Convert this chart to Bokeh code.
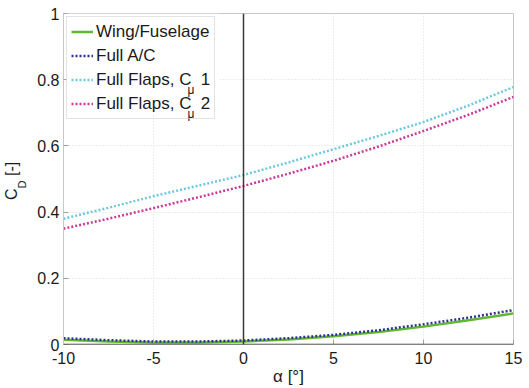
from bokeh.plotting import figure
from bokeh.layouts import row
from bokeh.models import (ColumnDataSource, Range1d, Legend, LegendItem, Span,
                          Label, FixedTicker, BoxAnnotation, Div)
from bokeh.embed import file_html
from bokeh.resources import INLINE

# ---- data ----
alpha = [-10, -7.5, -5, -2.5, 0, 2.5, 5, 7.5, 10, 12.5, 15]
cd_wing_fuselage = [0.014, 0.009, 0.006, 0.006, 0.009, 0.015, 0.025, 0.038, 0.054, 0.073, 0.094]
cd_full_ac = [0.019, 0.013, 0.009, 0.009, 0.012, 0.019, 0.029, 0.043, 0.061, 0.081, 0.104]
cd_flaps_cmu1 = [0.380, 0.413, 0.448, 0.480, 0.512, 0.550, 0.590, 0.630, 0.672, 0.722, 0.778]
cd_flaps_cmu2 = [0.350, 0.380, 0.412, 0.445, 0.479, 0.516, 0.555, 0.598, 0.645, 0.694, 0.748]

x_ticks = [-10, -5, 0, 5, 10, 15]
x_tick_labels = {-10: "-10", -5: "-5", 0: "0", 5: "5", 10: "10", 15: "15"}
y_ticks = [0, 0.2, 0.4, 0.6, 0.8, 1]
y_tick_labels = {0: "0", 0.2: "0.2", 0.4: "0.4", 0.6: "0.6", 0.8: "0.8", 1: "1"}

legend_labels = ["Wing/Fuselage", "Full A/C", "Full Flaps, C\u00a0\u00a01", "Full Flaps, C\u00a0\u00a02"]

FONT = "Liberation Sans"
TXT = "#1a1a1a"
DIV_W = 30

src = ColumnDataSource(dict(a=alpha, wf=cd_wing_fuselage, ac=cd_full_ac,
                            f1=cd_flaps_cmu1, f2=cd_flaps_cmu2))

p = figure(width=529 - DIV_W, height=388, output_backend="svg", toolbar_location=None,
           x_range=Range1d(-10, 15), y_range=Range1d(0, 1),
           min_border_left=63 - DIV_W, min_border_right=16, min_border_top=13,
           min_border_bottom=41, margin=0)
p.background_fill_color = "white"
p.border_fill_color = "white"
p.outline_line_color = "#c8c8c8"

# grid
for g in (p.xgrid, p.ygrid):
    g.grid_line_color = "#dddddd"
    g.grid_line_dash = "1 2"
    g.grid_line_width = 1
p.xgrid.ticker = FixedTicker(ticks=x_ticks)
p.ygrid.ticker = FixedTicker(ticks=y_ticks)

# axes
p.xaxis.ticker = FixedTicker(ticks=x_ticks)
p.yaxis.ticker = FixedTicker(ticks=y_ticks)
p.xaxis.major_label_overrides = x_tick_labels
p.yaxis.major_label_overrides = y_tick_labels
for ax in (p.xaxis, p.yaxis):
    ax.axis_line_color = "#c8c8c8"
    ax.major_tick_line_color = "#a0a0a0"
    ax.major_tick_in = 5
    ax.major_tick_out = 0
    ax.minor_tick_line_color = None
    ax.major_label_text_font = FONT
    ax.major_label_text_font_size = "16px"
    ax.major_label_text_color = TXT
p.xaxis.major_label_standoff = 7
p.yaxis.major_label_standoff = 4
p.xaxis.axis_label = "α [°]"
p.xaxis.axis_label_text_font = FONT
p.xaxis.axis_label_text_font_size = "17px"
p.xaxis.axis_label_text_font_style = "normal"
p.xaxis.axis_label_text_color = TXT
p.xaxis.axis_label_standoff = 0

# zero lines
p.add_layout(Span(location=0, dimension="height", line_color="#3a3a3a", line_width=1.5))
p.add_layout(Span(location=0, dimension="width", line_color="#3a3a3a", line_width=1.5))

r1 = p.line("a", "wf", source=src, line_color="#5fb82f", line_width=2.5)
r2 = p.line("a", "ac", source=src, line_color="#2e3192", line_width=2.5, line_dash="2 2")
r3 = p.line("a", "f1", source=src, line_color="#6cc7e0", line_width=2.5, line_dash="2 2")
r4 = p.line("a", "f2", source=src, line_color="#c8399a", line_width=2.5, line_dash="2 2")

# white patch under the (transparent) legend so the grid does not show through
p.add_layout(BoxAnnotation(left=3, right=155, top=331, bottom=230,
                           left_units="screen", right_units="screen",
                           top_units="screen", bottom_units="screen",
                           fill_color="white", fill_alpha=1, line_color=None))

legend = Legend(items=[LegendItem(label=legend_labels[0], renderers=[r1]),
                       LegendItem(label=legend_labels[1], renderers=[r2]),
                       LegendItem(label=legend_labels[2], renderers=[r3]),
                       LegendItem(label=legend_labels[3], renderers=[r4])],
                location="top_left", margin=3, padding=4, spacing=3,
                label_height=21, glyph_height=21, glyph_width=22, label_standoff=3,
                border_line_color="#c8c8c8", border_line_width=1,
                background_fill_alpha=0,
                label_text_font=FONT, label_text_font_size="17px",
                label_text_color=TXT)
p.add_layout(legend)

# subscripts "μ" in the legend (screen units, relative to frame bottom-left)
for yy in (347 - 92, 347 - 116):
    p.add_layout(Label(x=187 - 63, y=yy, x_units="screen", y_units="screen", text="μ",
                       text_font=FONT, text_font_size="12px", text_color=TXT,
                       text_baseline="alphabetic"))

# y axis label C_D [-] as rotated HTML (with a real subscript)
ylabel = Div(width=DIV_W, height=388, margin=0, text=(
    '<div style="position:absolute; left:3px; top:200px; transform:rotate(-90deg); '
    'transform-origin:left top; white-space:nowrap; font-family:\'Liberation Sans\'; '
    'font-size:16px; line-height:18px; color:#1a1a1a;">'
    'C<span style="position:relative; top:9px; font-size:11px;">D</span> [-]</div>'))

layout = row(ylabel, p, spacing=0)

open("out.html", "w").write(file_html(layout, INLINE))
